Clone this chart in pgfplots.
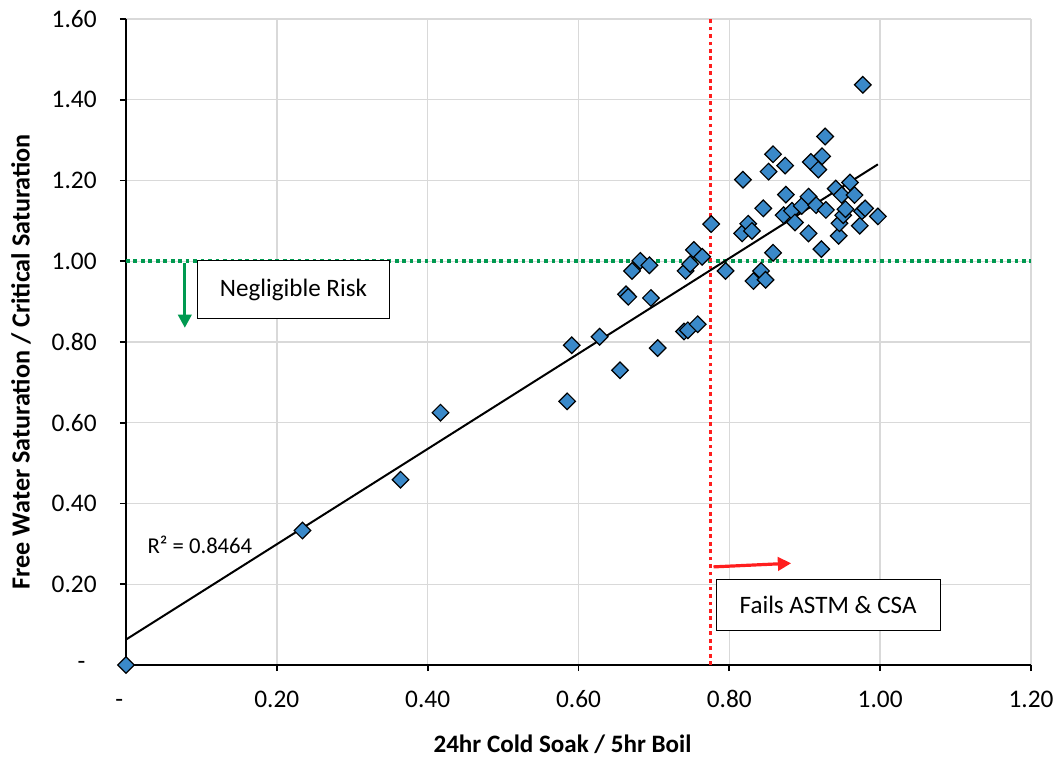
\documentclass[border=0pt]{standalone}
\usepackage{pgfplots}
\pgfplotsset{compat=1.18}
\usepackage{fontspec}
\setmainfont{Carlito}
\usetikzlibrary{arrows.meta}
\definecolor{mkblue}{RGB}{58,137,201}
\definecolor{gline}{RGB}{0,153,80}
\definecolor{rline}{RGB}{255,30,30}
\definecolor{gridgray}{RGB}{217,217,217}
\pgfplotstableread{
x y
0 0
0.234 0.333
0.364 0.459
0.417 0.625
0.585 0.653
0.591 0.792
0.628 0.813
0.655 0.730
0.663 0.918
0.666 0.912
0.671 0.976
0.682 1.001
0.694 0.990
0.696 0.909
0.705 0.785
0.740 0.826
0.745 0.829
0.742 0.976
0.748 0.993
0.753 1.028
0.758 0.844
0.764 1.011
0.776 1.092
0.795 0.976
0.817 1.069
0.818 1.202
0.825 1.093
0.830 1.075
0.832 0.951
0.842 0.976
0.845 1.131
0.848 0.954
0.852 1.222
0.858 1.265
0.858 1.021
0.872 1.114
0.874 1.237
0.875 1.165
0.883 1.125
0.887 1.096
0.896 1.137
0.905 1.160
0.905 1.069
0.908 1.246
0.915 1.139
0.918 1.227
0.922 1.030
0.923 1.260
0.927 1.309
0.928 1.127
0.941 1.180
0.945 1.063
0.946 1.094
0.949 1.164
0.951 1.114
0.954 1.129
0.960 1.195
0.966 1.164
0.973 1.088
0.976 1.124
0.977 1.437
0.980 1.131
0.997 1.111
}\datatable
\begin{document}
\begin{tikzpicture}[font=\fontsize{18.8}{22}\selectfont]
\begin{axis}[
  name=ax,
  scale only axis,
  width=678.75pt, height=484.5pt,
  xmin=0, xmax=1.2, ymin=0, ymax=1.6,
  axis lines=left,
  axis line style={-, line width=1.7pt, black},
  xtick={0,0.2,0.4,0.6,0.8,1.0,1.2},
  xticklabels={-\hspace{10pt}\mbox{},0.20,0.40,0.60,0.80,1.00,1.20},
  ytick={0,0.2,0.4,0.6,0.8,1.0,1.2,1.4,1.6},
  yticklabels={-\hspace{8.5pt}\mbox{},0.20,0.40,0.60,0.80,1.00,1.20,1.40,1.60},
  tick align=outside,
  major tick length=4.5pt,
  tick style={black, line width=1.3pt},
  grid=major,
  major grid style={gridgray, line width=1.1pt},
  ticklabel style={font=\fontsize{19}{22}\selectfont},
  xticklabel style={anchor=base, yshift=-27pt},
  yticklabel style={xshift=-14pt, anchor=east},
  every axis x label/.style={at={(rel axis cs:0.5,0)}, anchor=center, xshift=-12pt, yshift=-59.25pt, font=\fontsize{18.8}{22}\selectfont\bfseries},
  every axis y label/.style={at={(rel axis cs:0,0.5)}, anchor=center, rotate=90, xshift=-14.75pt, yshift=78.75pt, font=\fontsize{19.6}{22}\selectfont\bfseries},
  xlabel={24hr Cold Soak / 5hr Boil},
  ylabel={Free Water Saturation / Critical Saturation},
  clip=false,
]
\addplot[gline, line width=2.8pt, dash pattern=on 2.8pt off 2.8pt] coordinates {(0,1.0) (1.2,1.0)};
\addplot[rline, line width=2.8pt, dash pattern=on 2.8pt off 2.8pt] coordinates {(0.775,0) (0.775,1.6)};
\addplot[black, line width=1.5pt] coordinates {(0,0.063) (0.997,1.240)};
\addplot[only marks, mark=square*, mark size=4.4pt,
  mark options={fill=mkblue, draw=black, line width=0.9pt, rotate=45}] table[x=x,y=y] {\datatable};
\draw[gline, line width=2.4pt, -{Triangle[length=10pt,width=10pt]}] (axis cs:0.078,0.995) -- (axis cs:0.078,0.835);
\draw[rline, line width=2.4pt, -{Triangle[length=10pt,width=10pt]}] (axis cs:0.779,0.243) -- (axis cs:0.882,0.252);
\node[draw=black, fill=white, line width=0.8pt, minimum width=144pt, minimum height=43pt] at (axis cs:0.222,0.93) {Negligible Risk};
\node[draw=black, fill=white, line width=0.8pt, minimum width=168pt, minimum height=38pt] at (axis cs:0.931,0.149) {Fails ASTM \& CSA};
\node[anchor=center] at (axis cs:0.098,0.298) {\fontsize{17}{20}\selectfont R² = 0.8464};
\end{axis}
\pgfresetboundingbox
\path (ax.south west) ++(-94.5pt,-69pt) coordinate (bl);
\path (ax.north east) ++(18pt,14.25pt) coordinate (tr);
\useasboundingbox (bl) rectangle (tr);
\end{tikzpicture}
\end{document}
